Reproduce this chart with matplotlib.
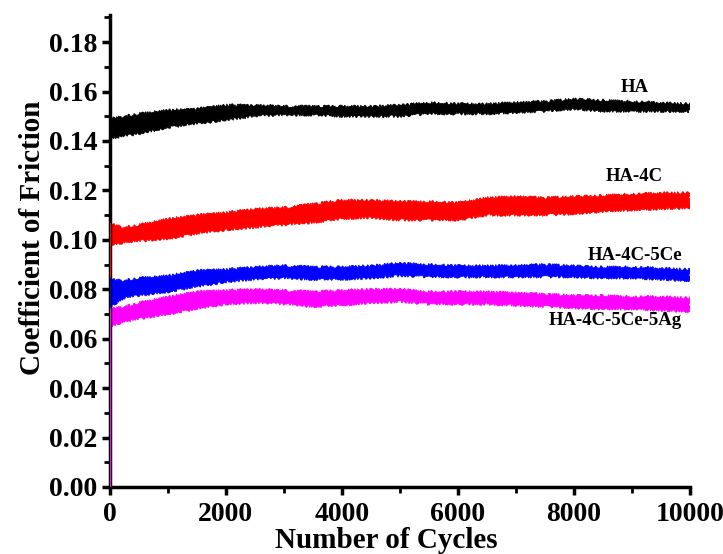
import numpy as np
import matplotlib
matplotlib.use("Agg")
import matplotlib.pyplot as plt
from matplotlib.patches import Polygon
from matplotlib.ticker import MultipleLocator, FormatStrFormatter

plt.rcParams['font.family'] = ['Liberation Serif', 'DejaVu Serif']
plt.rcParams['font.weight'] = 'bold'

# ---- data (noise envelope: lower / upper) ----
cycles = [0, 250, 500, 1000, 1500, 2000, 2500, 3000, 3500, 4000, 4500, 5000,
          5500, 6000, 6500, 7000, 7500, 8000, 8500, 9000, 9500, 10000]

ha_low = [0.141, 0.142, 0.143, 0.1455, 0.147, 0.1485, 0.150, 0.1505, 0.1505, 0.150, 0.150, 0.150,
          0.151, 0.151, 0.151, 0.1515, 0.152, 0.153, 0.152, 0.152, 0.152, 0.152]
ha_high = [0.149, 0.150, 0.151, 0.1525, 0.153, 0.1545, 0.1545, 0.154, 0.154, 0.154, 0.154, 0.1545,
           0.1555, 0.155, 0.155, 0.1555, 0.156, 0.157, 0.1565, 0.156, 0.1555, 0.155]

ha4c_low = [0.098, 0.099, 0.0995, 0.1005, 0.1025, 0.104, 0.105, 0.106, 0.107, 0.1085, 0.109, 0.108,
            0.108, 0.108, 0.110, 0.110, 0.110, 0.1105, 0.1115, 0.112, 0.1125, 0.113]
ha4c_high = [0.1065, 0.105, 0.106, 0.1085, 0.110, 0.111, 0.1125, 0.113, 0.1145, 0.116, 0.116, 0.1155,
             0.1155, 0.115, 0.117, 0.1175, 0.117, 0.1175, 0.118, 0.1185, 0.119, 0.119]

ce_low = [0.073, 0.0765, 0.0775, 0.079, 0.081, 0.083, 0.084, 0.0845, 0.084, 0.084, 0.0845, 0.0855,
          0.085, 0.085, 0.085, 0.085, 0.085, 0.085, 0.0845, 0.0845, 0.084, 0.0835]
ce_high = [0.084, 0.0835, 0.0845, 0.0855, 0.0875, 0.088, 0.089, 0.0895, 0.089, 0.089, 0.0895, 0.0905,
           0.090, 0.0895, 0.0895, 0.0895, 0.090, 0.0895, 0.089, 0.089, 0.0885, 0.088]

ag_low = [0.065, 0.067, 0.068, 0.070, 0.072, 0.074, 0.0745, 0.074, 0.073, 0.0735, 0.0745, 0.075,
          0.074, 0.074, 0.074, 0.0735, 0.073, 0.0725, 0.072, 0.072, 0.0715, 0.071]
ag_high = [0.072, 0.073, 0.0745, 0.077, 0.079, 0.0795, 0.080, 0.0795, 0.079, 0.0795, 0.080, 0.080,
           0.079, 0.079, 0.079, 0.0785, 0.078, 0.0775, 0.0775, 0.077, 0.077, 0.0765]

run_in_start = 0.0  # each test starts from zero friction at cycle 0

names = ['HA', 'HA-4C', 'HA-4C-5Ce', 'HA-4C-5Ce-5Ag']
colors = ['#000000', '#ff0000', '#0000ff', '#ff00ff']
lows = [ha_low, ha4c_low, ce_low, ag_low]
highs = [ha_high, ha4c_high, ce_high, ag_high]
label_x = [9050, 9050, 9050, 8720]
label_y = [0.1615, 0.1255, 0.0935, 0.0675]

x_ticks = [0, 2000, 4000, 6000, 8000, 10000]
y_ticks = [0.00, 0.02, 0.04, 0.06, 0.08, 0.10, 0.12, 0.14, 0.16, 0.18]

fig = plt.figure(figsize=(7.23, 5.54), dpi=100)
ax = fig.add_axes([0.152, 0.121, 0.802, 0.852])

for name, c, lo, hi, lx, ly in zip(names, colors, lows, highs, label_x, label_y):
    x = np.asarray(cycles, float)
    lo = np.asarray(lo, float)
    hi = np.asarray(hi, float)
    # run-in line at the start
    ax.plot([x[0], x[0]], [run_in_start, hi[0]], color=c, lw=1.5, zorder=3)
    verts = np.column_stack([np.concatenate([x, x[::-1]]),
                             np.concatenate([hi, lo[::-1]])])
    poly = Polygon(verts, closed=True, facecolor=c, edgecolor=c, lw=0.6, zorder=2)
    poly.set_sketch_params(scale=1.3, length=1.2, randomness=4)
    ax.add_patch(poly)
    ax.text(lx, ly, name, ha='center', va='center', fontsize=13.5,
            fontweight='bold', color='black')

ax.set_xlim(0, 10000)
ax.set_ylim(0, 0.191)
ax.set_xticks(x_ticks)
ax.set_yticks(y_ticks)
ax.xaxis.set_minor_locator(MultipleLocator(1000))
ax.yaxis.set_minor_locator(MultipleLocator(0.01))
ax.yaxis.set_major_formatter(FormatStrFormatter('%.2f'))

for s in ['top', 'right']:
    ax.spines[s].set_visible(False)
for s in ['left', 'bottom']:
    ax.spines[s].set_linewidth(2.5)

ax.tick_params(axis='both', which='major', direction='out', length=6, width=2.5,
               labelsize=20)
ax.tick_params(axis='x', which='major', pad=5)
ax.tick_params(axis='y', which='major', pad=3)
ax.tick_params(axis='both', which='minor', direction='out', length=4, width=2.0)
for lab in ax.get_xticklabels() + ax.get_yticklabels():
    lab.set_fontweight('bold')

ax.set_xlabel('Number of Cycles', fontsize=21, fontweight='bold')
ax.set_ylabel('Coefficient of Friction', fontsize=21, fontweight='bold')
ax.xaxis.set_label_coords(0.476, -0.085)
ax.yaxis.set_label_coords(-0.110, 0.527)

fig.savefig('out.png', dpi=100)
